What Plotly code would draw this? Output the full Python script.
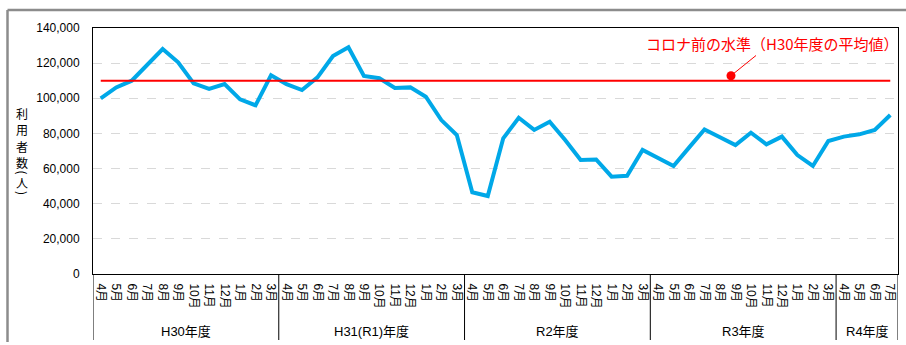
import plotly.graph_objects as go

# ---- data ----
fiscal_years = ["H30年度", "H31(R1)年度", "R2年度", "R3年度", "R4年度"]
months_per_year = [12, 12, 12, 12, 4]
month_names_full = ["4月", "5月", "6月", "7月", "8月", "9月", "10月", "11月", "12月", "1月", "2月", "3月"]

users_h30 = [100000, 106200, 110000, 119000, 128000, 120500, 108500, 105300, 108100, 99400, 96000, 113100]
users_h31 = [108000, 104700, 111900, 124000, 129000, 112700, 111400, 105900, 106200, 100900, 87600, 79100]
users_r2 = [46500, 44400, 77200, 88900, 82000, 86700, 76300, 64900, 65200, 55400, 55900, 70600]
users_r3 = [66200, 61500, 71900, 82300, 77800, 73400, 80400, 73800, 78200, 67700, 61500, 75700]
users_r4 = [78200, 79500, 82000, 90500]

pre_covid_level = 110000  # H30年度の平均値
annotation_text = "コロナ前の水準（H30年度の平均値）"
y_title_chars = ["利", "用", "者", "数", "(", "人", ")"]

users = users_h30 + users_h31 + users_r2 + users_r3 + users_r4
month_labels = []
for n in months_per_year:
    month_labels += month_names_full[:n]
x_idx = list(range(len(users)))

# ---- layout geometry (pixels) ----
W, H = 906, 345
L, R, T, B = 93, 8, 28, 71
PW, PH = W - L - R, H - T - B
def px(x):
    return (x - L) / PW
def py(y):
    return (H - B - y) / PH

FONT = "Liberation Sans, Noto Sans CJK JP, sans-serif"
JP = "Noto Sans CJK JP, sans-serif"

fig = go.Figure()
fig.add_trace(go.Scatter(
    x=x_idx, y=users, mode="lines",
    line=dict(color="#00A8E8", width=4),
    hoverinfo="skip", showlegend=False,
))
fig.add_trace(go.Scatter(
    x=[x_idx[0], x_idx[-1]], y=[pre_covid_level, pre_covid_level], mode="lines",
    line=dict(color="#FF0000", width=2),
    hoverinfo="skip", showlegend=False,
))

shapes = []
# outer frame (gray)
shapes.append(dict(type="line", xref="paper", yref="paper", x0=px(7.5), x1=px(910), y0=py(10), y1=py(10),
                   line=dict(color="#8C8C8C", width=2.5)))
shapes.append(dict(type="line", xref="paper", yref="paper", x0=px(7.5), x1=px(7.5), y0=py(10), y1=py(342),
                   line=dict(color="#8C8C8C", width=2.5)))
# group separators below the axis
bounds = [-0.5]
for n in months_per_year:
    bounds.append(bounds[-1] + n)
for b in bounds:
    shapes.append(dict(type="line", xref="x", yref="paper", x0=b, x1=b, y0=0, y1=py(340),
                       line=dict(color="#000000", width=1)))
# leader line + dot of annotation
shapes.append(dict(type="line", xref="paper", yref="paper", x0=px(731), y0=py(75.7), x1=px(756), y1=py(55.5),
                   line=dict(color="#FF0000", width=1)))
shapes.append(dict(type="circle", xref="paper", yref="paper", x0=px(726.5), x1=px(735.5), y0=py(71.2), y1=py(80.2),
                   fillcolor="#FF0000", line=dict(color="#FF0000", width=0)))

annotations = []
start = 0
for name, n in zip(fiscal_years, months_per_year):
    annotations.append(dict(x=start + (n - 1) / 2, y=py(331), xref="x", yref="paper", text=name,
                            showarrow=False, font=dict(family=FONT, size=13, color="#000000"),
                            xanchor="center", yanchor="middle"))
    start += n
annotations.append(dict(x=px(772), y=py(43), xref="paper", yref="paper", text=annotation_text,
                        showarrow=False, font=dict(family=JP, size=15, color="#FF0000"),
                        xanchor="center", yanchor="middle"))
char_y = [113.5, 129.8, 146.1, 162.4, 172.6, 182.8, 193.0]
for ch, cy in zip(y_title_chars, char_y):
    is_paren = ch in "()"
    annotations.append(dict(x=px(22), y=py(cy), xref="paper", yref="paper", text=ch,
                            showarrow=False, textangle=90 if is_paren else 0,
                            font=dict(family=JP, size=12, color="#000000"),
                            xanchor="center", yanchor="middle"))

fig.update_layout(
    width=W, height=H,
    margin=dict(l=L, r=R, t=T, b=B, pad=0),
    paper_bgcolor="#FFFFFF", plot_bgcolor="#FFFFFF",
    font=dict(family=FONT, size=12, color="#000000"),
    shapes=shapes, annotations=annotations,
    showlegend=False,
)
fig.update_xaxes(
    range=[-0.5, len(users) - 0.5],
    tickmode="array", tickvals=x_idx, ticktext=month_labels,
    tickangle=90, tickfont=dict(family=FONT, size=12, color="#000000"),
    showgrid=False, zeroline=False,
    showline=True, linecolor="#000000", linewidth=1, mirror=True,
    ticks="", ticklabelstandoff=6,
)
fig.update_yaxes(
    range=[0, 140000], tickmode="linear", tick0=0, dtick=20000,
    tickformat=",", tickfont=dict(family=FONT, size=12, color="#000000"),
    showgrid=True, gridcolor="#D9D9D9", gridwidth=1, griddash="dash",
    zeroline=False,
    showline=True, linecolor="#000000", linewidth=1, mirror=True,
    ticks="", ticklabelstandoff=10,
)

fig.write_html("out.html")
